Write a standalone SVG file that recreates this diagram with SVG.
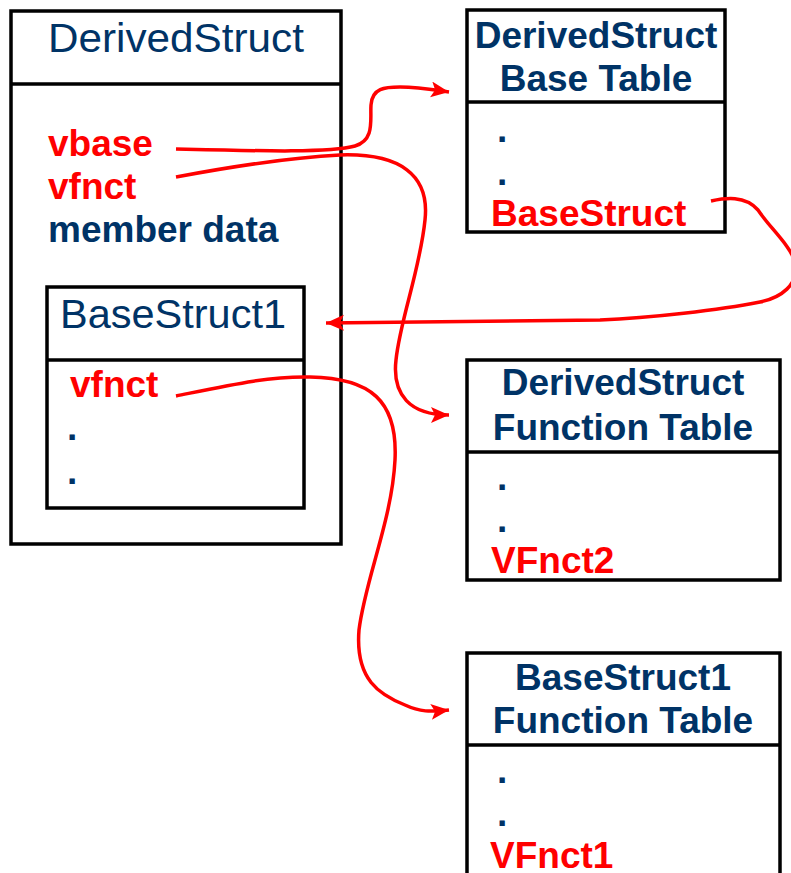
<svg xmlns="http://www.w3.org/2000/svg" width="791" height="873" viewBox="0 0 791 873">
<defs>
<style>
.box{fill:none;stroke:#000;stroke-width:3.5}
.hd{font-family:"Liberation Sans",Arial,sans-serif;font-size:41px;fill:#003366}
.tb{font-family:"Liberation Sans",Arial,sans-serif;font-size:37px;font-weight:bold;fill:#003366}
.rd{font-family:"Liberation Sans",Arial,sans-serif;font-size:37px;font-weight:bold;fill:#ff0000}
.ctr{text-anchor:middle}
.con{fill:none;stroke:#ff0000;stroke-width:3.5;marker-end:url(#arr)}
</style>
<marker id="arr" markerUnits="userSpaceOnUse" markerWidth="22" markerHeight="18" refX="18" refY="8" orient="auto">
<path d="M0,0 L18,8 L0,16 L4,8 Z" fill="#ff0000"/>
</marker>
</defs>
<rect width="791" height="873" fill="#fff"/>

<g id="derivedstruct">
<rect class="box" x="11" y="11" width="330" height="533"/>
<line class="box" x1="11" y1="84" x2="341" y2="84"/>
<text class="hd" x="48" y="52" textLength="256" lengthAdjust="spacingAndGlyphs">DerivedStruct</text>
<text class="rd" x="48" y="156">vbase</text>
<text class="rd" x="48" y="199">vfnct</text>
<text class="tb" x="48" y="242">member data</text>
</g>

<g id="basestruct1">
<rect class="box" x="47" y="287" width="257" height="221"/>
<line class="box" x1="47" y1="360" x2="304" y2="360"/>
<text class="hd" x="60" y="328" textLength="226" lengthAdjust="spacingAndGlyphs">BaseStruct1</text>
<text class="rd" x="70" y="397">vfnct</text>
<text class="tb" x="67" y="440">.</text>
<text class="tb" x="67" y="484">.</text>
</g>

<g id="derived-base-table">
<rect class="box" x="467" y="10" width="258" height="222"/>
<line class="box" x1="467" y1="102" x2="725" y2="102"/>
<text class="tb ctr" x="596" y="48">DerivedStruct</text>
<text class="tb ctr" x="596" y="91">Base Table</text>
<text class="tb" x="497" y="142">.</text>
<text class="tb" x="497" y="185">.</text>
<text class="rd" x="491" y="226">BaseStruct</text>
</g>

<g id="derived-function-table">
<rect class="box" x="467" y="360" width="313" height="220"/>
<line class="box" x1="467" y1="452" x2="780" y2="452"/>
<text class="tb ctr" x="623" y="395">DerivedStruct</text>
<text class="tb ctr" x="623" y="440">Function Table</text>
<text class="tb" x="497" y="490">.</text>
<text class="tb" x="497" y="532">.</text>
<text class="rd" x="491" y="573">VFnct2</text>
</g>

<g id="base1-function-table">
<rect class="box" x="467" y="653" width="313" height="260"/>
<line class="box" x1="467" y1="745" x2="780" y2="745"/>
<text class="tb ctr" x="623" y="690">BaseStruct1</text>
<text class="tb ctr" x="623" y="733">Function Table</text>
<text class="tb" x="497" y="783">.</text>
<text class="tb" x="497" y="826">.</text>
<text class="rd" x="490" y="868">VFnct1</text>
</g>

<g id="connectors">
<path class="con" d="M176,149 C260,151 330,153 355,146 C375,140 370,120 371,105 C372,88 385,87 400,87 C420,87 435,90 449,92"/>
<path class="con" d="M176,177 C240,165 300,157 340,155 C400,153 430,175 425,220 C420,270 400,320 396,360 C392,395 410,415 449,415"/>
<path class="con" d="M711,201 C725,198 745,195 758,210 C770,228 790,245 795,262 C800,285 780,298 760,302 C720,310 650,318 600,320 L326,323"/>
<path class="con" d="M176,396 C230,385 270,376 310,377 C370,378 398,400 395,460 C392,520 365,580 359,630 C355,680 380,695 405,705 C420,712 430,712 449,710"/>
</g>
</svg>
